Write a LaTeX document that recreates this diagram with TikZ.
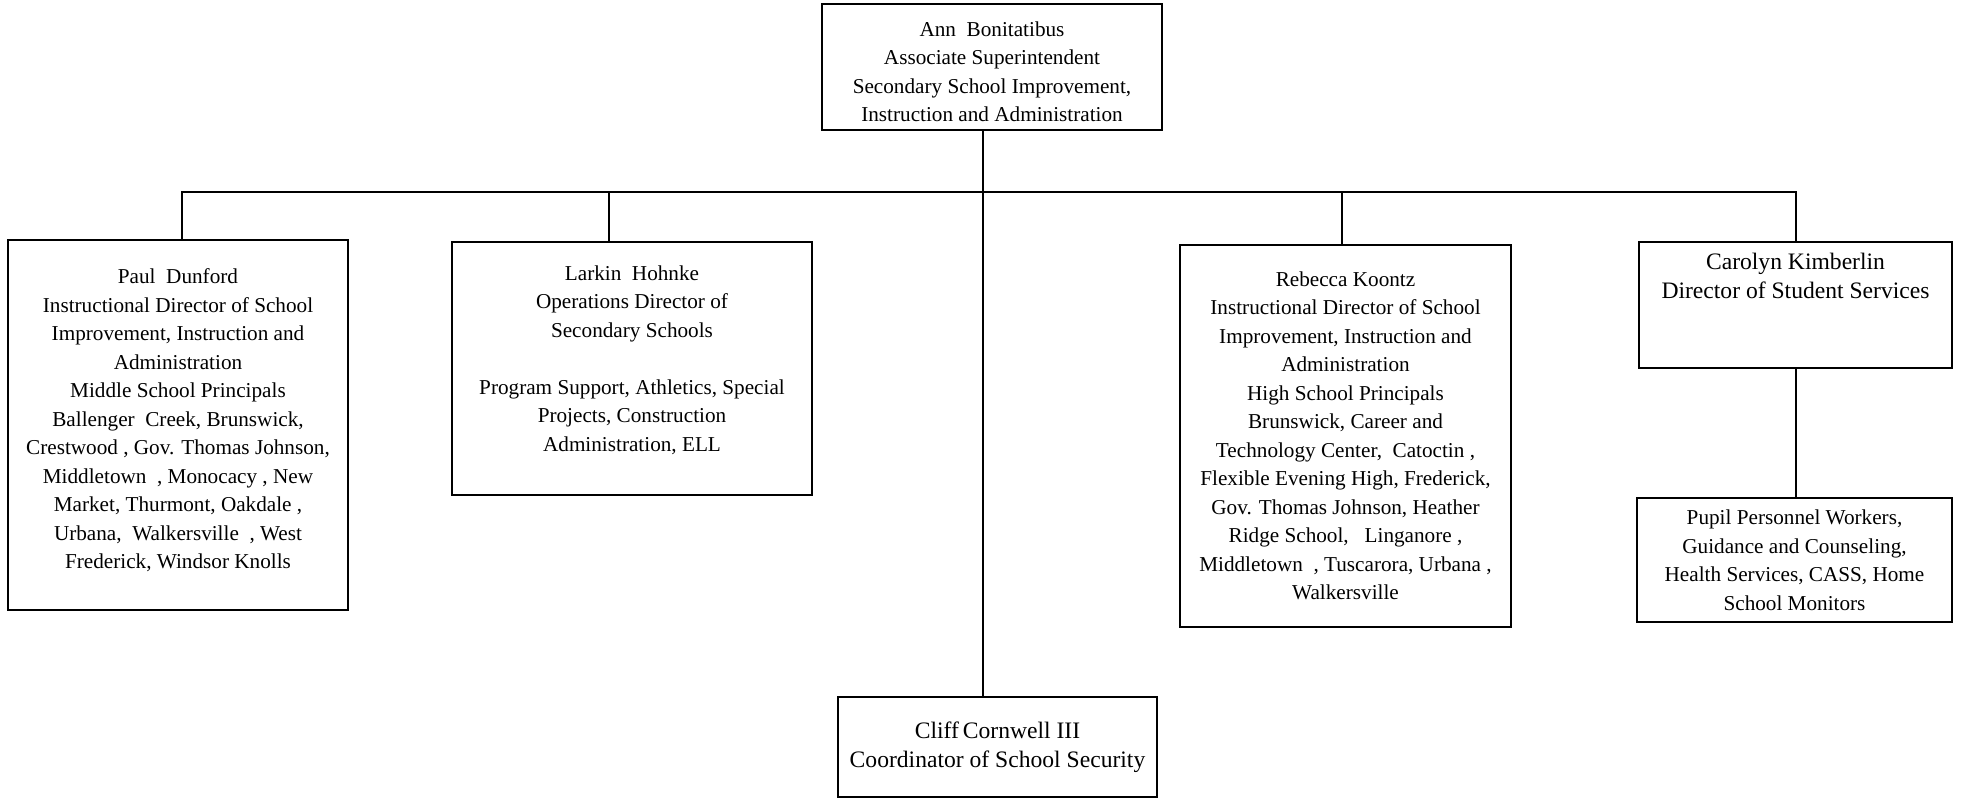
\documentclass[tikz,border=0pt]{standalone}
\usepackage{fontspec}
\setmainfont{Liberation Serif}
\newcommand{\boxfont}{\fontsize{10.6pt}{14.25pt}\selectfont}
\newcommand{\headfont}{\fontsize{11.8pt}{14.5pt}\selectfont}
\tikzset{
  orgbox/.style={draw, line width=1.3pt, align=center, inner sep=0pt, font=\boxfont},
  link/.style={line width=1.3pt}
}
\begin{document}
\begin{tikzpicture}[x=0.5pt,y=-0.5pt]
    \useasboundingbox (0,0) rectangle (1963,799);
    \node[orgbox, minimum width=170pt, minimum height=63pt] (ann) at (992,67)
      {\mbox{}\\[-2pt]Ann\ \ Bonitatibus\\Associate Superintendent\\Secondary School Improvement,\\Instruction and Administration};
    \node[orgbox, minimum width=170pt, minimum height=185pt] (paul) at (178,425)
      {Paul\ \ Dunford\\Instructional Director of School\\Improvement, Instruction and\\Administration\\Middle School Principals\\Ballenger\ \ Creek, Brunswick,\\Crestwood , Gov. Thomas Johnson,\\Middletown\ \ , Monocacy , New\\Market, Thurmont, Oakdale ,\\Urbana,\ \ Walkersville\ \ , West\\Frederick, Windsor Knolls\\[-8pt]\mbox{}};
    \node[orgbox, minimum width=180pt, minimum height=126.5pt] (larkin) at (632,368.5)
      {Larkin\ \ Hohnke\\Operations Director of\\Secondary Schools\\[14.25pt]Program Support, Athletics, Special\\Projects, Construction\\Administration, ELL\\[-4pt]\mbox{}};
    \node[orgbox, minimum width=165.5pt, minimum height=191pt] (rebecca) at (1345.5,436)
      {Rebecca Koontz\\Instructional Director of School\\Improvement, Instruction and\\Administration\\High School Principals\\Brunswick, Career and\\Technology Center,\ \ Catoctin ,\\Flexible Evening High, Frederick,\\Gov. Thomas Johnson, Heather\\Ridge School,\ \ \ Linganore ,\\Middletown\ \ , Tuscarora, Urbana ,\\Walkersville};
    \node[orgbox, font=\headfont, minimum width=156.5pt, minimum height=63pt] (carolyn) at (1795.5,305)
      {Carolyn Kimberlin\\Director of Student Services\\\mbox{}\\\mbox{}};
    \node[orgbox, minimum width=157.5pt, minimum height=62pt] (pupil) at (1794.5,560)
      {Pupil Personnel Workers,\\Guidance and Counseling,\\Health Services, CASS, Home\\School Monitors};
    \node[orgbox, font=\headfont, minimum width=159.5pt, minimum height=50pt] (cliff) at (997.5,747)
      {Cliff\,Cornwell III\\Coordinator of School Security};

    % bus and taps
    \coordinate (hub) at (983,192);
    \coordinate (paultap) at (182,192);
    \coordinate (larkintap) at (609,192);
    \coordinate (rebeccatap) at (1342,192);
    \coordinate (carolyntap) at (1796,192);
    \draw[link] (hub |- ann.south) -- (hub |- cliff.north);
    \draw[link] (paultap |- paul.north) -- (paultap) -- (carolyntap) -- (carolyntap |- carolyn.north);
    \foreach \n in {larkin,rebecca}
      \draw[link] (\n tap) -- (\n tap |- \n.north);
    \draw[link] (carolyntap |- carolyn.south) -- (carolyntap |- pupil.north);
\end{tikzpicture}
\end{document}
